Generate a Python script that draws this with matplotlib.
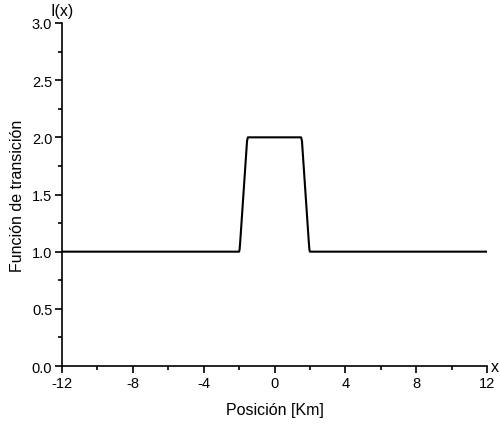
import matplotlib
matplotlib.use('Agg')
import matplotlib.pyplot as plt
from matplotlib.ticker import MultipleLocator

plt.rcParams['font.family'] = ['Liberation Sans', 'DejaVu Sans']
plt.rcParams['axes.unicode_minus'] = False

# transition function I(x)
pos = [-12, -2.0, -1.97, -1.93, -1.55, -1.5, 1.5, 1.55, 1.93, 1.97, 2.0, 12]
trans = [1.0, 1.0, 1.02, 1.1, 1.97, 2.0, 2.0, 1.97, 1.1, 1.02, 1.0, 1.0]

fig = plt.figure(figsize=(5, 4.27), dpi=100)
ax = fig.add_axes([0.124, 0.1405, 0.85, 0.8033])

ax.plot(pos, trans, color='black', lw=1.5)

ax.set_xlim(-12, 12)
ax.set_ylim(0, 3)
ax.xaxis.set_major_locator(MultipleLocator(4))
ax.xaxis.set_minor_locator(MultipleLocator(2))
ax.yaxis.set_major_locator(MultipleLocator(0.5))
ax.yaxis.set_minor_locator(MultipleLocator(0.25))
ax.spines['top'].set_visible(False)
ax.spines['right'].set_visible(False)
for s in ['left', 'bottom']:
    ax.spines[s].set_linewidth(1.2)
ax.tick_params(which='major', direction='out', length=5, width=1.2, labelsize=10.5, pad=2)
ax.tick_params(which='minor', direction='out', length=3, width=1.2)

ax.set_xlabel('Posición [Km]', fontsize=11.5, labelpad=9)
ax.set_ylabel('Función de transición', fontsize=11.5, labelpad=5)

ax.text(0.0, 1.015, 'I(x)', transform=ax.transAxes, fontsize=11.5, ha='center', va='bottom')
ax.text(1.008, 0.0, 'x', transform=ax.transAxes, fontsize=11.5, ha='left', va='center')

fig.savefig('out.png', dpi=100)
